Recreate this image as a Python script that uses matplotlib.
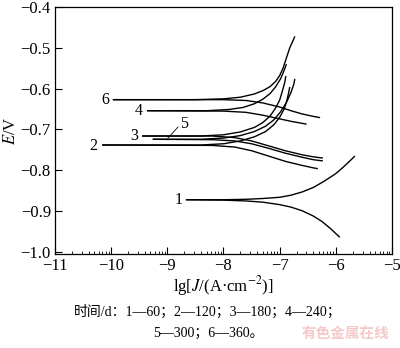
import numpy as np
import matplotlib
matplotlib.use('Agg')
import matplotlib.pyplot as plt

plt.rcParams['font.family'] = ['Liberation Serif', 'Noto Sans CJK SC']
plt.rcParams['mathtext.fontset'] = 'stix'
plt.rcParams['axes.unicode_minus'] = True

# 极化曲线数据：lg J 与 E，每条曲线分阳极支和阴极支（共用平台段起点）
lgj_1a = [-8.67, -8.0, -7.6, -7.3, -7.0, -6.8, -6.6, -6.4, -6.2, -6.0, -5.85, -5.75, -5.66]
e_1a   = [-0.872, -0.872, -0.871, -0.869, -0.866, -0.861, -0.853, -0.842, -0.826, -0.808,
          -0.790, -0.777, -0.765]
lgj_1c = [-8.67, -8.0, -7.6, -7.3, -7.0, -6.8, -6.6, -6.4, -6.25, -6.1, -6.0, -5.93]
e_1c   = [-0.872, -0.873, -0.875, -0.878, -0.884, -0.890, -0.899, -0.912, -0.925, -0.942,
          -0.955, -0.964]

lgj_2a = [-10.16, -8.4, -8.0, -7.7, -7.45, -7.25, -7.1, -7.0, -6.92, -6.87, -6.84, -6.82]
e_2a   = [-0.738, -0.738, -0.735, -0.728, -0.718, -0.705, -0.688, -0.670, -0.650, -0.628,
          -0.610, -0.596]
lgj_2c = [-10.16, -8.2, -7.8, -7.5, -7.2, -6.9, -6.6, -6.4, -6.32]
e_2c   = [-0.738, -0.739, -0.743, -0.752, -0.765, -0.778, -0.788, -0.794, -0.796]

lgj_3a = [-9.45, -8.4, -8.0, -7.7, -7.45, -7.3, -7.17, -7.07, -7.0, -6.95, -6.91, -6.89]
e_3a   = [-0.716, -0.716, -0.713, -0.706, -0.695, -0.683, -0.667, -0.647, -0.628, -0.605,
          -0.585, -0.569]
lgj_3c = [-9.45, -8.2, -7.8, -7.5, -7.2, -6.9, -6.6, -6.4, -6.23]
e_3c   = [-0.716, -0.716, -0.720, -0.728, -0.740, -0.752, -0.762, -0.767, -0.770]

lgj_4a = [-9.36, -8.3, -7.9, -7.65, -7.45, -7.3, -7.17, -7.07, -6.98, -6.92, -6.88]
e_4a   = [-0.654, -0.654, -0.651, -0.646, -0.637, -0.626, -0.612, -0.595, -0.575, -0.555,
          -0.540]
lgj_4c = [-9.36, -8.0, -7.6, -7.3, -7.0, -6.8, -6.6, -6.52]
e_4c   = [-0.654, -0.655, -0.658, -0.665, -0.674, -0.680, -0.685, -0.687]

lgj_5a = [-9.26, -8.4, -8.0, -7.7, -7.45, -7.25, -7.1, -6.98, -6.88, -6.8, -6.75, -6.73]
e_5a   = [-0.724, -0.724, -0.721, -0.715, -0.705, -0.692, -0.676, -0.656, -0.634, -0.610,
          -0.590, -0.576]
lgj_5c = [-9.26, -8.2, -7.8, -7.5, -7.2, -6.9, -6.6, -6.4, -6.23]
e_5c   = [-0.724, -0.725, -0.728, -0.735, -0.746, -0.758, -0.768, -0.774, -0.777]

lgj_6a = [-9.97, -8.5, -8.0, -7.7, -7.45, -7.3, -7.17, -7.07, -7.0, -6.94, -6.88, -6.82,
          -6.76, -6.73]
e_6a   = [-0.627, -0.627, -0.625, -0.621, -0.613, -0.605, -0.595, -0.582, -0.568, -0.550,
          -0.525, -0.500, -0.482, -0.472]
lgj_6c = [-9.97, -8.0, -7.6, -7.3, -7.0, -6.8, -6.6, -6.4, -6.28]
e_6c   = [-0.627, -0.627, -0.629, -0.635, -0.645, -0.654, -0.662, -0.668, -0.671]

branches = [
    (lgj_1a, e_1a), (lgj_1c, e_1c),
    (lgj_2a, e_2a), (lgj_2c, e_2c),
    (lgj_3a, e_3a), (lgj_3c, e_3c),
    (lgj_4a, e_4a), (lgj_4c, e_4c),
    (lgj_5a, e_5a), (lgj_5c, e_5c),
    (lgj_6a, e_6a), (lgj_6c, e_6c),
]

# 曲线编号标注位置
curve_ids = ['1', '2', '3', '4', '6']
label_x   = [-8.72, -10.24, -9.52, -9.43, -10.04]
label_y   = [-0.873, -0.740, -0.716, -0.655, -0.628]

x_ticks = [-11, -10, -9, -8, -7, -6, -5]
y_ticks = [-1.0, -0.9, -0.8, -0.7, -0.6, -0.5, -0.4]

fig = plt.figure(figsize=(4.0, 3.48), dpi=100, facecolor='white')
ax = fig.add_axes([0.1375, 0.27, 0.8425, 0.7100])

for xs, ys in branches:
    ax.plot(xs, ys, color='black', lw=1.0, solid_capstyle='butt', solid_joinstyle='round')

for cid, lx, ly in zip(curve_ids, label_x, label_y):
    ax.text(lx, ly, cid, ha='right', va='center', fontsize=11.5)

# 5 号曲线用引线标注
ax.plot([-8.99, -8.81], [-0.721, -0.694], color='black', lw=0.6)
ax.text(-8.78, -0.686, '5', ha='left', va='center', fontsize=11.5)

ax.set_xlim(-11, -5)
ax.set_ylim(-1.005, -0.4)
ax.set_xticks(x_ticks)
ax.set_xticklabels([f'−{abs(v)}' for v in x_ticks])
ax.set_yticks(y_ticks)
ax.set_yticklabels([f'−{abs(v):.1f}' for v in y_ticks])

minor = [d + np.log10(m) for d in range(-11, -5) for m in range(2, 10)]
ax.set_xticks(minor, minor=True)

ax.tick_params(axis='both', which='major', direction='in', length=5, width=0.8,
               labelsize=12, pad=3)
ax.tick_params(axis='x', which='minor', direction='in', length=2.5, width=0.6)
for sp in ax.spines.values():
    sp.set_linewidth(0.9)

ax.set_xlabel('lg[$J$/(A·cm$^{-2}$)]', fontsize=12, labelpad=0)
ax.set_ylabel('$E$/V', fontsize=12, labelpad=1)

fig.text(0.52, 0.103, '时间/d：1—60；2—120；3—180；4—240；',
         ha='center', va='center', fontsize=10)
fig.text(0.52, 0.043, '5—300；6—360。',
         ha='center', va='center', fontsize=10)
fig.text(0.865, 0.043, '有色金属在线', ha='center', va='center',
         fontsize=10.5, color='#f6c9c9', fontweight='bold',
         family='Noto Sans CJK SC')

fig.savefig('out.png', dpi=100, facecolor='white')
